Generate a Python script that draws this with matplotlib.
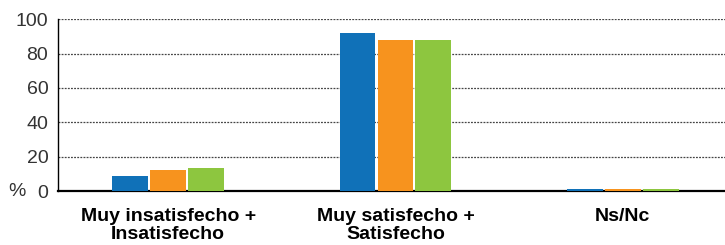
import matplotlib
matplotlib.use("Agg")
import matplotlib.pyplot as plt
import numpy as np

categories = ["Muy insatisfecho +\nInsatisfecho", "Muy satisfecho +\nSatisfecho", "Ns/Nc"]
serie_a = [8.8, 92.0, 1.2]
serie_b = [12.3, 88.0, 1.2]
serie_c = [13.5, 88.0, 1.2]
colors = ["#1071b8", "#f7931e", "#8dc63f"]
yticks = [0, 20, 40, 60, 80, 100]

plt.rcParams["font.family"] = ["Liberation Sans", "DejaVu Sans"]

fig = plt.figure(figsize=(7.25, 2.45), dpi=100)
ax = fig.add_axes([0.08, 0.22, 0.92, 0.702])

x = np.arange(len(categories))
w = 0.158
step = 0.167
for i, (vals, c) in enumerate(zip([serie_a, serie_b, serie_c], colors)):
    ax.bar(x + (i - 1) * step, vals, width=w, color=c, zorder=3)

ax.set_xlim(-0.485, 2.45)
ax.set_ylim(0, 100)
ax.set_yticks(yticks)
ax.set_yticklabels([str(t) for t in yticks], fontsize=14, color="#333333")
ax.set_xticks(x)
ax.set_xticklabels(categories, fontsize=14, fontweight="bold", linespacing=1.08)
ax.tick_params(axis="y", length=0, pad=7)
ax.tick_params(axis="x", length=0, pad=12)

ax.grid(axis="y", linestyle=(0, (1.5, 1)), color="#444444", linewidth=0.9, zorder=0)
ax.spines["top"].set_visible(False)
ax.spines["right"].set_visible(False)
ax.spines["left"].set_linewidth(1.0)
ax.spines["bottom"].set_linewidth(1.6)
ax.spines["bottom"].set_zorder(2)

fig.text(0.012, 0.22, "%", fontsize=14, color="#333333", va="center")

fig.savefig("out.png", dpi=100)
